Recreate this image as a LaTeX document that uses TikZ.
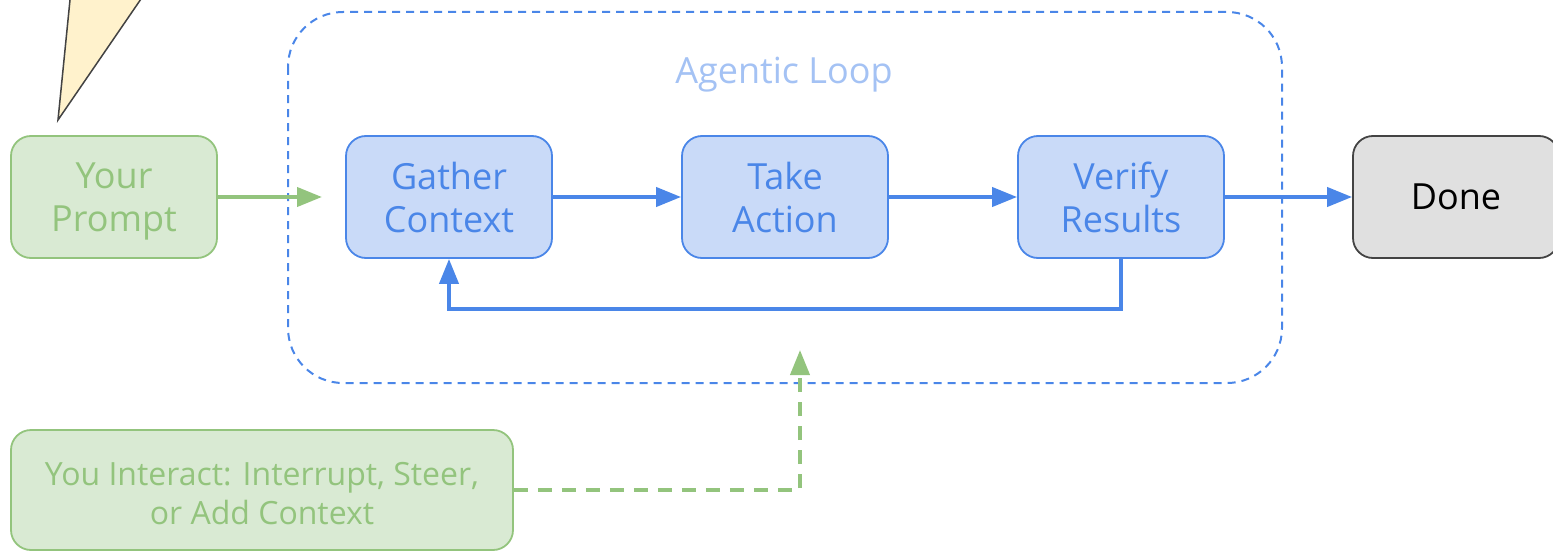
\documentclass[tikz,border=0pt]{standalone}
\usepackage{fontspec}
\setmainfont{Open Sans}
\usetikzlibrary{arrows.meta}
\definecolor{gfill}{HTML}{D9EAD3}
\definecolor{gline}{HTML}{93C47D}
\definecolor{bfill}{HTML}{C9DAF8}
\definecolor{bline}{HTML}{4A86E8}
\definecolor{btitle}{HTML}{A4C2F4}
\definecolor{dfill}{HTML}{E0E0E0}
\definecolor{dline}{HTML}{434343}
\definecolor{yfill}{HTML}{FFF2CC}
\newcommand{\nodepth}[1]{\raisebox{0pt}[\height][0pt]{#1}}
\tikzset{
  box/.style={rounded corners=20pt, line width=1.8pt, minimum width=206pt, minimum height=122pt, align=center, inner sep=0pt, font=\fontsize{36}{43}\selectfont},
  greenbox/.style={box, fill=gfill, draw=gline, text=gline},
  bluebox/.style={box, fill=bfill, draw=bline, text=bline},
  donebox/.style={box, fill=dfill, draw=dline, text=black},
  tip/.style={-{Triangle[length=25pt,width=19pt]}},
  bluearrow/.style={tip, draw=bline, line width=4pt},
  greenarrow/.style={tip, draw=gline, line width=4pt},
}
\begin{document}
\begin{tikzpicture}[x=1pt,y=-1pt]
\useasboundingbox (0,0) rectangle (1553,551);
\clip (0,0) rectangle (1553,551);
% speech-bubble tail
\draw[fill=yfill, draw=dline, line width=1.5pt, line join=miter] (72,-20) -- (58,120) -- (154,-20);
% agentic loop container
\draw[bline, line width=2pt, dash pattern=on 8pt off 6pt, rounded corners=55pt] (288,12) rectangle (1282,383);
\node[text=btitle, font=\fontsize{36}{43}\selectfont] (title) at (784,75) {Agentic Loop};
% nodes
\node[greenbox] (prompt) at (114,197) {Your\\\nodepth{Prompt}};
\node[bluebox] (gather) at (449,197) {Gather\\Context};
\node[bluebox] (take) at (785,197) {Take\\Action};
\node[bluebox] (verify) at (1121,197) {Verify\\Results};
\node[donebox] (done) at (1456,197) {Done};
\node[greenbox, minimum width=502pt, minimum height=120pt, font=\fontsize{32}{39}\selectfont] (interact) at (262,490) {\rule{0pt}{30pt}You Interact: Interrupt, Steer,\\or Add Context};
% connectors
\coordinate (pin) at (322,197);
\coordinate (iin) at (800,350);
\draw[greenarrow] (prompt.east) -- (pin);
\draw[bluearrow] (gather.east) -- (take.west);
\draw[bluearrow] (take.east) -- (verify.west);
\draw[bluearrow] (verify.east) -- (done.west);
\draw[bluearrow, line cap=round] (verify.south) -- ++(0,50) -| (gather.south);
\draw[greenarrow, dash pattern=on 14pt off 10pt] (interact.east) -| (iin);
\end{tikzpicture}
\end{document}
